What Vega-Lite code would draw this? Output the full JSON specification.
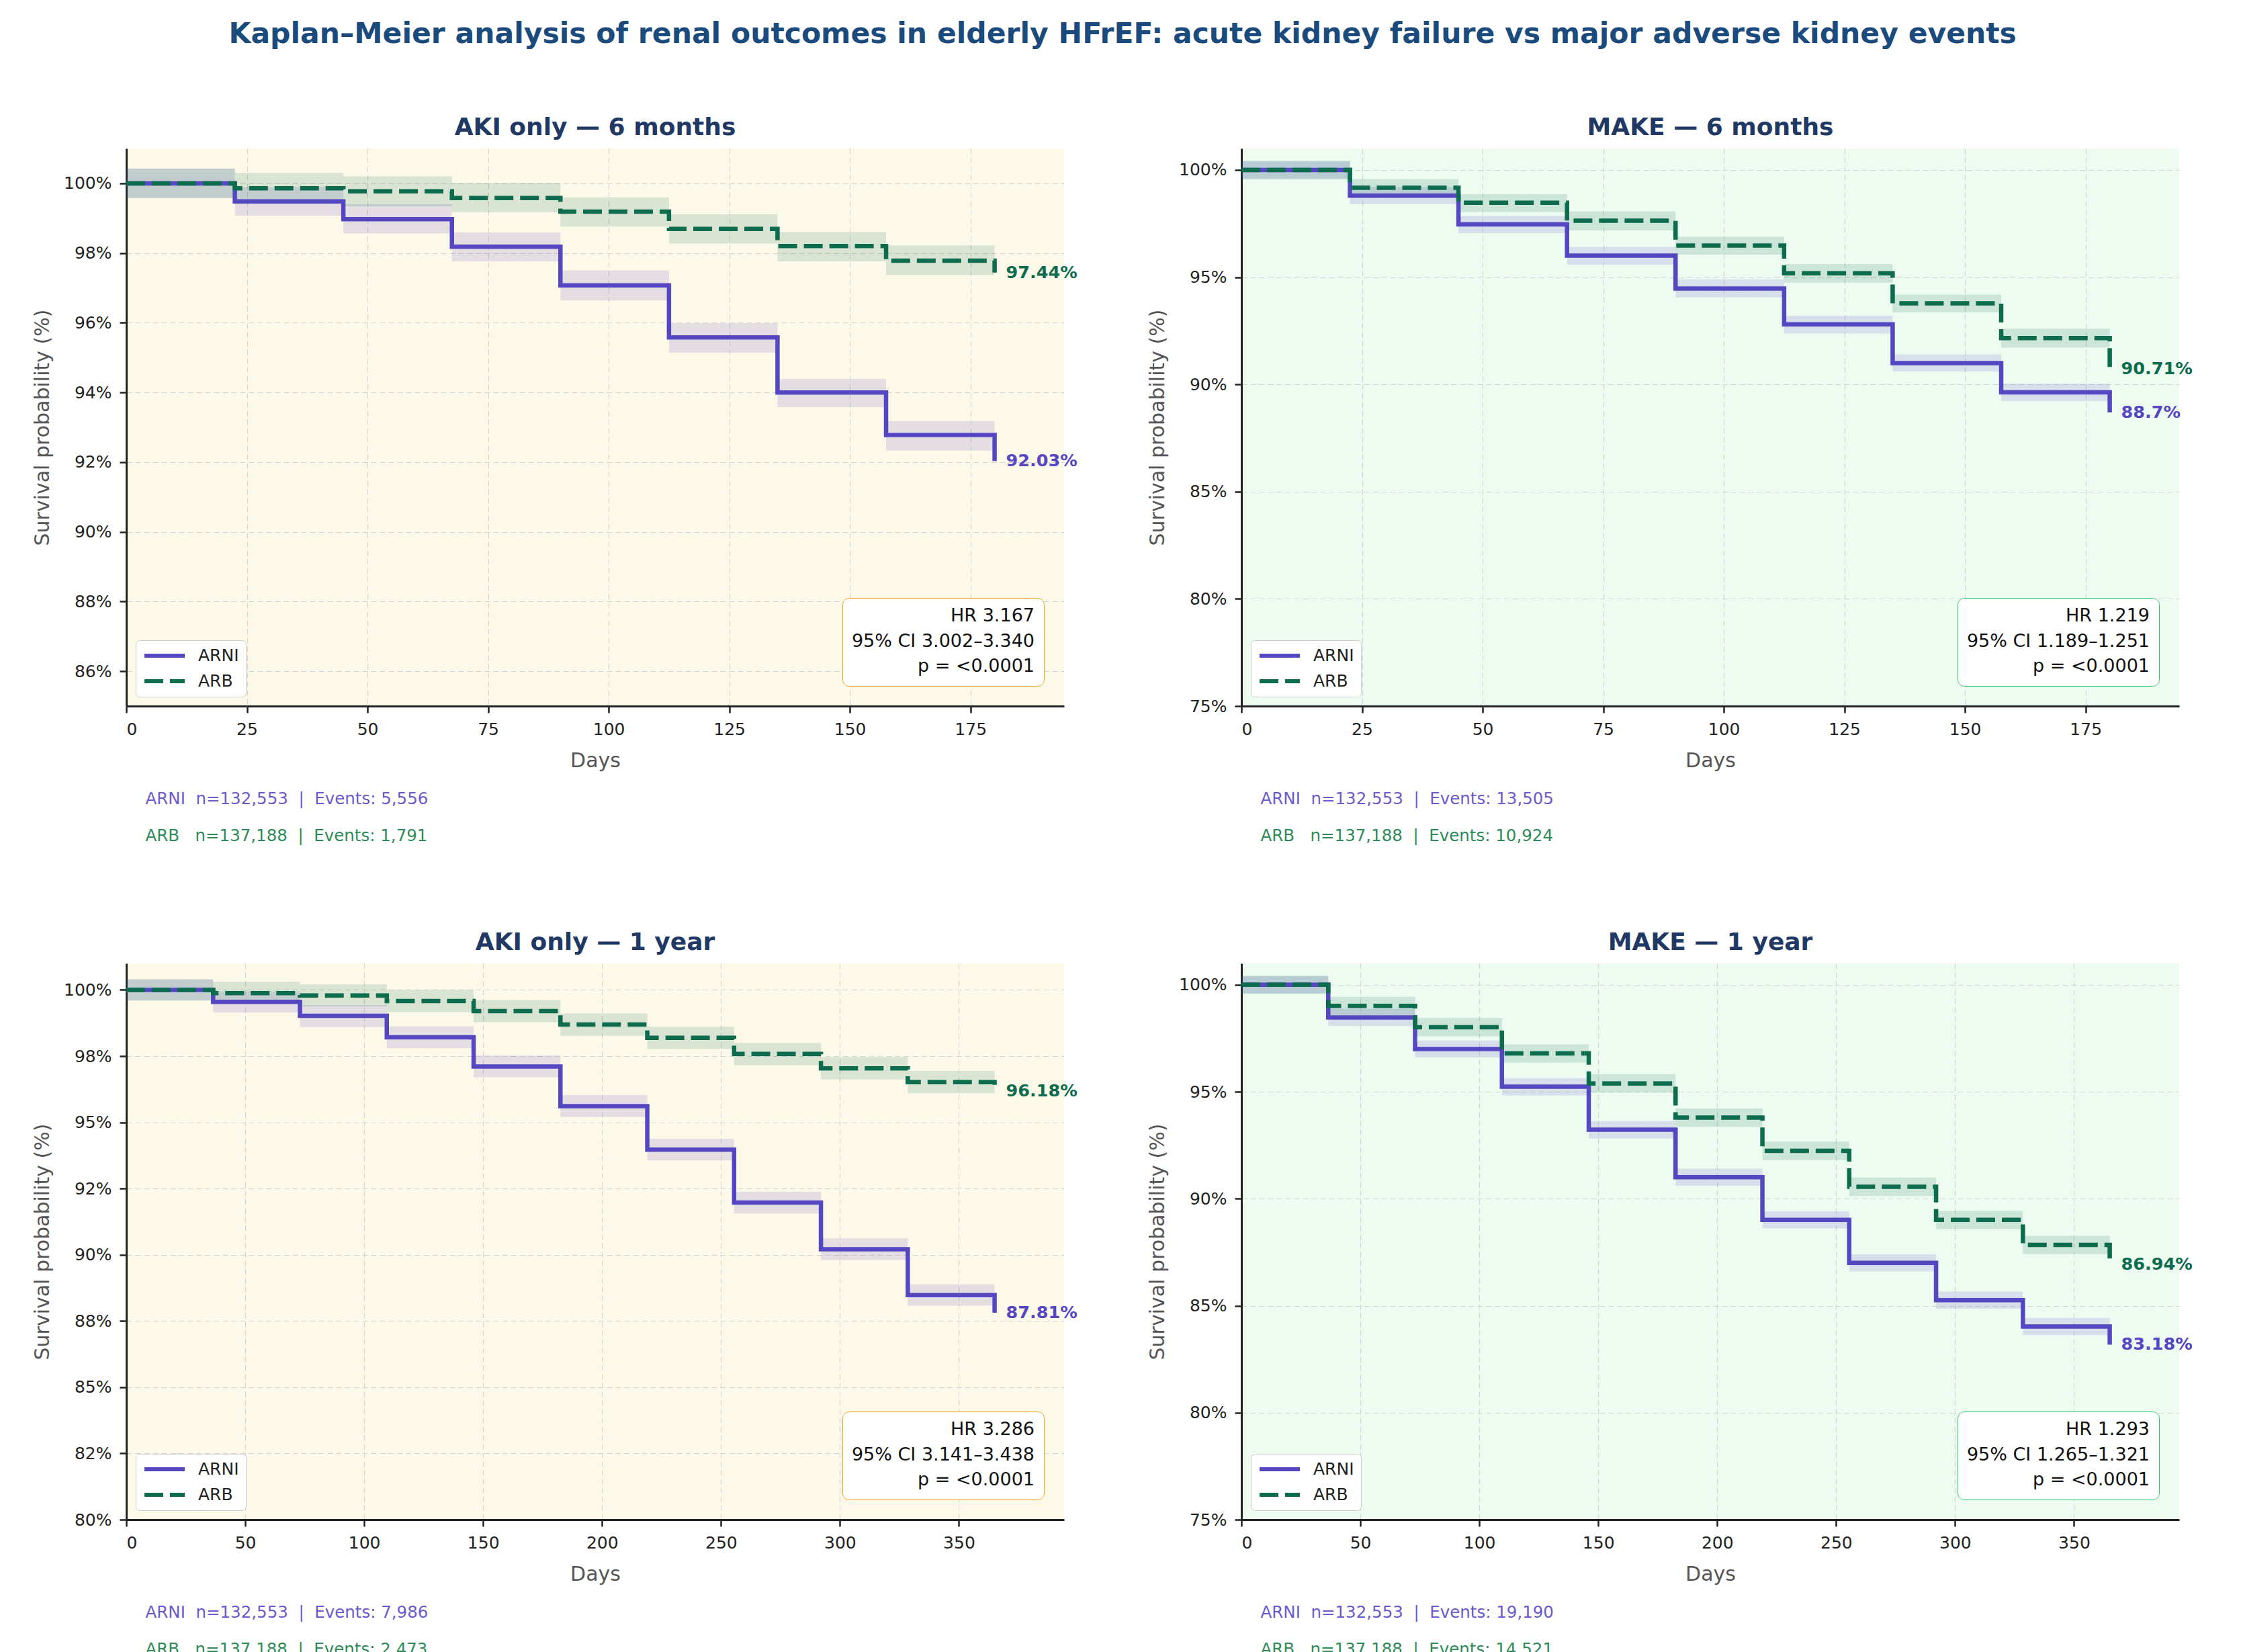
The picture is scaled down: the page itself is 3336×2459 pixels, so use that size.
{
  "$schema": "https://vega.github.io/schema/vega-lite/v6.json",
  "background": "white",
  "padding": {"left": 48, "top": 29, "right": 20, "bottom": 10},
  "title": {"text": "Kaplan–Meier analysis of renal outcomes in elderly HFrEF: acute kidney failure vs major adverse kidney events", "fontSize": 42.5, "fontWeight": "bold", "color": "#1a4b7c", "anchor": "middle", "offset": 100, "dx": 15},
  "datasets": {
    "a6": [
      {"g":"ARNI","t":0,"s":100,"lo":99.58,"hi":100.42},
      {"g":"ARNI","t":22.5,"s":99.48,"lo":99.07,"hi":99.89},
      {"g":"ARNI","t":45,"s":98.97,"lo":98.56,"hi":99.4},
      {"g":"ARNI","t":67.5,"s":98.18,"lo":97.76,"hi":98.59},
      {"g":"ARNI","t":90,"s":97.07,"lo":96.64,"hi":97.5},
      {"g":"ARNI","t":112.5,"s":95.58,"lo":95.14,"hi":95.99},
      {"g":"ARNI","t":135,"s":94.0,"lo":93.58,"hi":94.39},
      {"g":"ARNI","t":157.5,"s":92.78,"lo":92.33,"hi":93.18},
      {"g":"ARNI","t":180,"s":92.03,"lo":91.62,"hi":92.44},
      {"g":"ARB","t":0,"s":100,"lo":99.58,"hi":100.42},
      {"g":"ARB","t":22.5,"s":99.86,"lo":99.4,"hi":100.3},
      {"g":"ARB","t":45,"s":99.77,"lo":99.34,"hi":100.2},
      {"g":"ARB","t":67.5,"s":99.58,"lo":99.17,"hi":100.01},
      {"g":"ARB","t":90,"s":99.19,"lo":98.76,"hi":99.6},
      {"g":"ARB","t":112.5,"s":98.69,"lo":98.27,"hi":99.11},
      {"g":"ARB","t":135,"s":98.2,"lo":97.76,"hi":98.6},
      {"g":"ARB","t":157.5,"s":97.78,"lo":97.37,"hi":98.22},
      {"g":"ARB","t":180,"s":97.44,"lo":97.02,"hi":97.86}
    ],
    "m6": [
      {"g":"ARNI","t":0,"s":100,"lo":99.6,"hi":100.4},
      {"g":"ARNI","t":22.5,"s":98.8,"lo":98.4,"hi":99.2},
      {"g":"ARNI","t":45,"s":97.46,"lo":97.05,"hi":97.86},
      {"g":"ARNI","t":67.5,"s":96.0,"lo":95.58,"hi":96.4},
      {"g":"ARNI","t":90,"s":94.47,"lo":94.05,"hi":94.9},
      {"g":"ARNI","t":112.5,"s":92.8,"lo":92.37,"hi":93.2},
      {"g":"ARNI","t":135,"s":90.99,"lo":90.6,"hi":91.4},
      {"g":"ARNI","t":157.5,"s":89.63,"lo":89.23,"hi":90.04},
      {"g":"ARNI","t":180,"s":88.7,"lo":88.3,"hi":89.1},
      {"g":"ARB","t":0,"s":100,"lo":99.55,"hi":100.43},
      {"g":"ARB","t":22.5,"s":99.17,"lo":98.79,"hi":99.57},
      {"g":"ARB","t":45,"s":98.47,"lo":98.04,"hi":98.87},
      {"g":"ARB","t":67.5,"s":97.63,"lo":97.18,"hi":98.06},
      {"g":"ARB","t":90,"s":96.47,"lo":96.05,"hi":96.89},
      {"g":"ARB","t":112.5,"s":95.18,"lo":94.74,"hi":95.61},
      {"g":"ARB","t":135,"s":93.78,"lo":93.36,"hi":94.19},
      {"g":"ARB","t":157.5,"s":92.16,"lo":91.72,"hi":92.6},
      {"g":"ARB","t":180,"s":90.71,"lo":90.27,"hi":91.15}
    ],
    "a12": [
      {"g":"ARNI","t":0,"s":100,"lo":99.6,"hi":100.4},
      {"g":"ARNI","t":36.5,"s":99.55,"lo":99.14,"hi":99.95},
      {"g":"ARNI","t":73,"s":99.02,"lo":98.6,"hi":99.43},
      {"g":"ARNI","t":109.5,"s":98.21,"lo":97.8,"hi":98.62},
      {"g":"ARNI","t":146,"s":97.11,"lo":96.7,"hi":97.52},
      {"g":"ARNI","t":182.5,"s":95.61,"lo":95.2,"hi":96.03},
      {"g":"ARNI","t":219,"s":93.97,"lo":93.56,"hi":94.38},
      {"g":"ARNI","t":255.5,"s":91.97,"lo":91.56,"hi":92.38},
      {"g":"ARNI","t":292,"s":90.21,"lo":89.8,"hi":90.62},
      {"g":"ARNI","t":328.5,"s":88.48,"lo":88.08,"hi":88.88},
      {"g":"ARNI","t":365,"s":87.81,"lo":87.41,"hi":88.21},
      {"g":"ARB","t":0,"s":100,"lo":99.6,"hi":100.4},
      {"g":"ARB","t":36.5,"s":99.88,"lo":99.46,"hi":100.3},
      {"g":"ARB","t":73,"s":99.79,"lo":99.37,"hi":100.21},
      {"g":"ARB","t":109.5,"s":99.58,"lo":99.16,"hi":100.0},
      {"g":"ARB","t":146,"s":99.2,"lo":98.78,"hi":99.62},
      {"g":"ARB","t":182.5,"s":98.69,"lo":98.27,"hi":99.11},
      {"g":"ARB","t":219,"s":98.19,"lo":97.77,"hi":98.61},
      {"g":"ARB","t":255.5,"s":97.58,"lo":97.16,"hi":98.0},
      {"g":"ARB","t":292,"s":97.04,"lo":96.62,"hi":97.46},
      {"g":"ARB","t":328.5,"s":96.52,"lo":96.1,"hi":96.94},
      {"g":"ARB","t":365,"s":96.18,"lo":95.76,"hi":96.6}
    ],
    "m12": [
      {"g":"ARNI","t":0,"s":100,"lo":99.6,"hi":100.4},
      {"g":"ARNI","t":36.5,"s":98.47,"lo":98.07,"hi":98.87},
      {"g":"ARNI","t":73,"s":97.0,"lo":96.6,"hi":97.4},
      {"g":"ARNI","t":109.5,"s":95.24,"lo":94.83,"hi":95.64},
      {"g":"ARNI","t":146,"s":93.23,"lo":92.82,"hi":93.63},
      {"g":"ARNI","t":182.5,"s":91.01,"lo":90.61,"hi":91.41},
      {"g":"ARNI","t":219,"s":89.01,"lo":88.61,"hi":89.41},
      {"g":"ARNI","t":255.5,"s":87.0,"lo":86.6,"hi":87.4},
      {"g":"ARNI","t":292,"s":85.26,"lo":84.86,"hi":85.66},
      {"g":"ARNI","t":328.5,"s":84.03,"lo":83.63,"hi":84.43},
      {"g":"ARNI","t":365,"s":83.18,"lo":82.78,"hi":83.58},
      {"g":"ARB","t":0,"s":100,"lo":99.57,"hi":100.43},
      {"g":"ARB","t":36.5,"s":99.01,"lo":98.58,"hi":99.44},
      {"g":"ARB","t":73,"s":98.02,"lo":97.59,"hi":98.45},
      {"g":"ARB","t":109.5,"s":96.79,"lo":96.36,"hi":97.22},
      {"g":"ARB","t":146,"s":95.39,"lo":94.96,"hi":95.82},
      {"g":"ARB","t":182.5,"s":93.79,"lo":93.36,"hi":94.22},
      {"g":"ARB","t":219,"s":92.24,"lo":91.81,"hi":92.67},
      {"g":"ARB","t":255.5,"s":90.56,"lo":90.13,"hi":90.99},
      {"g":"ARB","t":292,"s":89.01,"lo":88.58,"hi":89.44},
      {"g":"ARB","t":328.5,"s":87.84,"lo":87.41,"hi":88.27},
      {"g":"ARB","t":365,"s":86.94,"lo":86.51,"hi":87.37}
    ]
  },
  "resolve": {"scale": {"stroke": "independent", "strokeDash": "independent", "shape": "independent"}, "legend": {"stroke": "independent", "strokeDash": "independent", "shape": "independent"}},
  "spacing": 129,
  "vconcat": [
    {
      "spacing": 104,
      "resolve": {"scale": {"stroke": "independent", "strokeDash": "independent", "shape": "independent"}, "legend": {"stroke": "independent", "strokeDash": "independent", "shape": "independent"}},
      "hconcat": [
        {
          "title": {"text": "ARNI\u00a0\u00a0n=132,553\u00a0\u00a0|\u00a0\u00a0Events: 5,556", "subtitle": "ARB\u00a0\u00a0\u00a0n=137,188\u00a0\u00a0|\u00a0\u00a0Events: 1,791", "orient": "bottom", "anchor": "start", "fontSize": 24.5, "fontWeight": "normal", "color": "#6a5acd", "subtitleFontSize": 24.5, "subtitleColor": "#2e8b57", "subtitlePadding": 30, "offset": 31, "dx": 168},
          "resolve": {"scale": {"stroke": "independent", "strokeDash": "independent", "shape": "independent"}, "legend": {"stroke": "independent", "strokeDash": "independent", "shape": "independent"}},
          "vconcat": [
            {
              "data": {"name": "a6"},
              "width": 1396, "height": 830,
              "view": {"fill": "#fdf9e9", "stroke": null},
              "title": {"text": "AKI only — 6 months"},
              "layer": [
                {"transform": [{"filter": "datum.g == 'ARNI'"}],
                 "mark": {"type": "area", "interpolate": "step-after", "fill": "#5546c2", "fillOpacity": 0.15},
                 "encoding": {
                   "x": {"field": "t", "type": "quantitative", "scale": {"domain": [0, 194.4], "nice": false, "zero": false}, "axis": {"values": [0,25,50,75,100,125,150,175], "title": "Days"}},
                   "y": {"field": "lo", "type": "quantitative", "scale": {"domain": [85, 101], "nice": false, "zero": false}, "axis": {"values": [86,88,90,92,94,96,98,100], "labelExpr": "datum.value + '%'", "title": "Survival probability (%)"}},
                   "y2": {"field": "hi"}}},
                {"transform": [{"filter": "datum.g == 'ARB'"}],
                 "mark": {"type": "area", "interpolate": "step-after", "fill": "#0d6b4e", "fillOpacity": 0.15},
                 "encoding": {
                   "x": {"field": "t", "type": "quantitative", "scale": {"domain": [0, 194.4], "nice": false, "zero": false}, "axis": {"values": [0,25,50,75,100,125,150,175], "title": "Days"}},
                   "y": {"field": "lo", "type": "quantitative", "scale": {"domain": [85, 101], "nice": false, "zero": false}, "axis": {"values": [86,88,90,92,94,96,98,100], "labelExpr": "datum.value + '%'", "title": "Survival probability (%)"}},
                   "y2": {"field": "hi"}}},
                {"transform": [{"filter": "datum.g == 'ARNI'"}],
                 "mark": {"type": "line", "interpolate": "step-after", "strokeWidth": 6.5},
                 "encoding": {
                   "x": {"field": "t", "type": "quantitative", "scale": {"domain": [0, 194.4], "nice": false, "zero": false}, "axis": {"values": [0,25,50,75,100,125,150,175], "title": "Days"}},
                   "y": {"field": "s", "type": "quantitative", "scale": {"domain": [85, 101], "nice": false, "zero": false}, "axis": {"values": [86,88,90,92,94,96,98,100], "labelExpr": "datum.value + '%'", "title": "Survival probability (%)"}},
                   "stroke": {"field": "g", "type": "nominal", "scale": {"domain": ["ARNI","ARB"], "range": ["#5546c2","#0d6b4e"]}, "legend": {"orient": "bottom-left", "offset": 14, "title": null}},
                   "strokeDash": {"field": "g", "type": "nominal", "scale": {"domain": ["ARNI","ARB"], "range": [[1,0],[28,10]]}, "legend": {"orient": "bottom-left", "offset": 14, "title": null}}}},
                {"transform": [{"filter": "datum.g == 'ARB'"}],
                 "mark": {"type": "line", "interpolate": "step-after", "strokeWidth": 6.5},
                 "encoding": {
                   "x": {"field": "t", "type": "quantitative", "scale": {"domain": [0, 194.4], "nice": false, "zero": false}, "axis": {"values": [0,25,50,75,100,125,150,175], "title": "Days"}},
                   "y": {"field": "s", "type": "quantitative", "scale": {"domain": [85, 101], "nice": false, "zero": false}, "axis": {"values": [86,88,90,92,94,96,98,100], "labelExpr": "datum.value + '%'", "title": "Survival probability (%)"}},
                   "stroke": {"field": "g", "type": "nominal", "scale": {"domain": ["ARNI","ARB"], "range": ["#5546c2","#0d6b4e"]}, "legend": {"orient": "bottom-left", "offset": 14, "title": null}},
                   "strokeDash": {"field": "g", "type": "nominal", "scale": {"domain": ["ARNI","ARB"], "range": [[1,0],[28,10]]}, "legend": {"orient": "bottom-left", "offset": 14, "title": null}}}},
                {"transform": [{"filter": "datum.t == 180 && datum.g == 'ARNI'"}, {"calculate": "datum.s + '%'", "as": "lbl"}],
                 "mark": {"type": "text", "align": "left", "baseline": "middle", "dx": 17, "fontSize": 25.5, "fontWeight": "bold", "fill": "#5546c2"},
                 "encoding": {
                   "x": {"field": "t", "type": "quantitative", "scale": {"domain": [0, 194.4], "nice": false, "zero": false}, "axis": {"values": [0,25,50,75,100,125,150,175], "title": "Days"}},
                   "y": {"field": "s", "type": "quantitative", "scale": {"domain": [85, 101], "nice": false, "zero": false}, "axis": {"values": [86,88,90,92,94,96,98,100], "labelExpr": "datum.value + '%'", "title": "Survival probability (%)"}},
                   "text": {"field": "lbl"}}},
                {"transform": [{"filter": "datum.t == 180 && datum.g == 'ARB'"}, {"calculate": "datum.s + '%'", "as": "lbl"}],
                 "mark": {"type": "text", "align": "left", "baseline": "middle", "dx": 17, "fontSize": 25.5, "fontWeight": "bold", "fill": "#0d6b4e"},
                 "encoding": {
                   "x": {"field": "t", "type": "quantitative", "scale": {"domain": [0, 194.4], "nice": false, "zero": false}, "axis": {"values": [0,25,50,75,100,125,150,175], "title": "Days"}},
                   "y": {"field": "s", "type": "quantitative", "scale": {"domain": [85, 101], "nice": false, "zero": false}, "axis": {"values": [86,88,90,92,94,96,98,100], "labelExpr": "datum.value + '%'", "title": "Survival probability (%)"}},
                   "text": {"field": "lbl"}}},
                {"transform": [{"filter": "datum.t == 0 && datum.g == 'ARNI'"}, {"calculate": "'HR'", "as": "k"}],
                 "mark": {"type": "point", "opacity": 0},
                 "encoding": {
                   "x": {"field": "t", "type": "quantitative", "scale": {"domain": [0, 194.4], "nice": false, "zero": false}, "axis": {"values": [0,25,50,75,100,125,150,175], "title": "Days"}},
                   "y": {"field": "s", "type": "quantitative", "scale": {"domain": [85, 101], "nice": false, "zero": false}, "axis": {"values": [86,88,90,92,94,96,98,100], "labelExpr": "datum.value + '%'", "title": "Survival probability (%)"}},
                   "shape": {"field": "k", "type": "nominal", "legend": {"orient": "bottom-right", "offset": 30, "title": ["HR 3.167", "95% CI 3.002–3.340", "p = <0.0001"], "strokeColor": "#f5a31a", "cornerRadius": 10, "padding": 14, "titlePadding": 0, "titleLineHeight": 37.5, "labelExpr": "''", "labelFontSize": 1, "labelOffset": 0, "symbolSize": 0, "symbolOpacity": 0, "symbolStrokeWidth": 0, "rowPadding": 0, "encode": {"legend": {"update": {"strokeWidth": {"value": 3}}}}}}}}
              ]
            }
          ]
        },
        {
          "title": {"text": "ARNI\u00a0\u00a0n=132,553\u00a0\u00a0|\u00a0\u00a0Events: 13,505", "subtitle": "ARB\u00a0\u00a0\u00a0n=137,188\u00a0\u00a0|\u00a0\u00a0Events: 10,924", "orient": "bottom", "anchor": "start", "fontSize": 24.5, "fontWeight": "normal", "color": "#6a5acd", "subtitleFontSize": 24.5, "subtitleColor": "#2e8b57", "subtitlePadding": 30, "offset": 31, "dx": 168},
          "resolve": {"scale": {"stroke": "independent", "strokeDash": "independent", "shape": "independent"}, "legend": {"stroke": "independent", "strokeDash": "independent", "shape": "independent"}},
          "vconcat": [
            {
              "data": {"name": "m6"},
              "width": 1396, "height": 830,
              "view": {"fill": "#edfbf1", "stroke": null},
              "title": {"text": "MAKE — 6 months"},
              "layer": [
                {"transform": [{"filter": "datum.g == 'ARNI'"}],
                 "mark": {"type": "area", "interpolate": "step-after", "fill": "#5546c2", "fillOpacity": 0.15},
                 "encoding": {
                   "x": {"field": "t", "type": "quantitative", "scale": {"domain": [0, 194.4], "nice": false, "zero": false}, "axis": {"values": [0,25,50,75,100,125,150,175], "title": "Days"}},
                   "y": {"field": "lo", "type": "quantitative", "scale": {"domain": [75, 101], "nice": false, "zero": false}, "axis": {"values": [75,80,85,90,95,100], "labelExpr": "datum.value + '%'", "title": "Survival probability (%)"}},
                   "y2": {"field": "hi"}}},
                {"transform": [{"filter": "datum.g == 'ARB'"}],
                 "mark": {"type": "area", "interpolate": "step-after", "fill": "#0d6b4e", "fillOpacity": 0.15},
                 "encoding": {
                   "x": {"field": "t", "type": "quantitative", "scale": {"domain": [0, 194.4], "nice": false, "zero": false}, "axis": {"values": [0,25,50,75,100,125,150,175], "title": "Days"}},
                   "y": {"field": "lo", "type": "quantitative", "scale": {"domain": [75, 101], "nice": false, "zero": false}, "axis": {"values": [75,80,85,90,95,100], "labelExpr": "datum.value + '%'", "title": "Survival probability (%)"}},
                   "y2": {"field": "hi"}}},
                {"transform": [{"filter": "datum.g == 'ARNI'"}],
                 "mark": {"type": "line", "interpolate": "step-after", "strokeWidth": 6.5},
                 "encoding": {
                   "x": {"field": "t", "type": "quantitative", "scale": {"domain": [0, 194.4], "nice": false, "zero": false}, "axis": {"values": [0,25,50,75,100,125,150,175], "title": "Days"}},
                   "y": {"field": "s", "type": "quantitative", "scale": {"domain": [75, 101], "nice": false, "zero": false}, "axis": {"values": [75,80,85,90,95,100], "labelExpr": "datum.value + '%'", "title": "Survival probability (%)"}},
                   "stroke": {"field": "g", "type": "nominal", "scale": {"domain": ["ARNI","ARB"], "range": ["#5546c2","#0d6b4e"]}, "legend": {"orient": "bottom-left", "offset": 14, "title": null}},
                   "strokeDash": {"field": "g", "type": "nominal", "scale": {"domain": ["ARNI","ARB"], "range": [[1,0],[28,10]]}, "legend": {"orient": "bottom-left", "offset": 14, "title": null}}}},
                {"transform": [{"filter": "datum.g == 'ARB'"}],
                 "mark": {"type": "line", "interpolate": "step-after", "strokeWidth": 6.5},
                 "encoding": {
                   "x": {"field": "t", "type": "quantitative", "scale": {"domain": [0, 194.4], "nice": false, "zero": false}, "axis": {"values": [0,25,50,75,100,125,150,175], "title": "Days"}},
                   "y": {"field": "s", "type": "quantitative", "scale": {"domain": [75, 101], "nice": false, "zero": false}, "axis": {"values": [75,80,85,90,95,100], "labelExpr": "datum.value + '%'", "title": "Survival probability (%)"}},
                   "stroke": {"field": "g", "type": "nominal", "scale": {"domain": ["ARNI","ARB"], "range": ["#5546c2","#0d6b4e"]}, "legend": {"orient": "bottom-left", "offset": 14, "title": null}},
                   "strokeDash": {"field": "g", "type": "nominal", "scale": {"domain": ["ARNI","ARB"], "range": [[1,0],[28,10]]}, "legend": {"orient": "bottom-left", "offset": 14, "title": null}}}},
                {"transform": [{"filter": "datum.t == 180 && datum.g == 'ARNI'"}, {"calculate": "datum.s + '%'", "as": "lbl"}],
                 "mark": {"type": "text", "align": "left", "baseline": "middle", "dx": 17, "fontSize": 25.5, "fontWeight": "bold", "fill": "#5546c2"},
                 "encoding": {
                   "x": {"field": "t", "type": "quantitative", "scale": {"domain": [0, 194.4], "nice": false, "zero": false}, "axis": {"values": [0,25,50,75,100,125,150,175], "title": "Days"}},
                   "y": {"field": "s", "type": "quantitative", "scale": {"domain": [75, 101], "nice": false, "zero": false}, "axis": {"values": [75,80,85,90,95,100], "labelExpr": "datum.value + '%'", "title": "Survival probability (%)"}},
                   "text": {"field": "lbl"}}},
                {"transform": [{"filter": "datum.t == 180 && datum.g == 'ARB'"}, {"calculate": "datum.s + '%'", "as": "lbl"}],
                 "mark": {"type": "text", "align": "left", "baseline": "middle", "dx": 17, "fontSize": 25.5, "fontWeight": "bold", "fill": "#0d6b4e"},
                 "encoding": {
                   "x": {"field": "t", "type": "quantitative", "scale": {"domain": [0, 194.4], "nice": false, "zero": false}, "axis": {"values": [0,25,50,75,100,125,150,175], "title": "Days"}},
                   "y": {"field": "s", "type": "quantitative", "scale": {"domain": [75, 101], "nice": false, "zero": false}, "axis": {"values": [75,80,85,90,95,100], "labelExpr": "datum.value + '%'", "title": "Survival probability (%)"}},
                   "text": {"field": "lbl"}}},
                {"transform": [{"filter": "datum.t == 0 && datum.g == 'ARNI'"}, {"calculate": "'HR'", "as": "k"}],
                 "mark": {"type": "point", "opacity": 0},
                 "encoding": {
                   "x": {"field": "t", "type": "quantitative", "scale": {"domain": [0, 194.4], "nice": false, "zero": false}, "axis": {"values": [0,25,50,75,100,125,150,175], "title": "Days"}},
                   "y": {"field": "s", "type": "quantitative", "scale": {"domain": [75, 101], "nice": false, "zero": false}, "axis": {"values": [75,80,85,90,95,100], "labelExpr": "datum.value + '%'", "title": "Survival probability (%)"}},
                   "shape": {"field": "k", "type": "nominal", "legend": {"orient": "bottom-right", "offset": 30, "title": ["HR 1.219", "95% CI 1.189–1.251", "p = <0.0001"], "strokeColor": "#2ecc71", "cornerRadius": 10, "padding": 14, "titlePadding": 0, "titleLineHeight": 37.5, "labelExpr": "''", "labelFontSize": 1, "labelOffset": 0, "symbolSize": 0, "symbolOpacity": 0, "symbolStrokeWidth": 0, "rowPadding": 0, "encode": {"legend": {"update": {"strokeWidth": {"value": 3}}}}}}}}
              ]
            }
          ]
        }
      ]
    },
    {
      "spacing": 104,
      "resolve": {"scale": {"stroke": "independent", "strokeDash": "independent", "shape": "independent"}, "legend": {"stroke": "independent", "strokeDash": "independent", "shape": "independent"}},
      "hconcat": [
        {
          "title": {"text": "ARNI\u00a0\u00a0n=132,553\u00a0\u00a0|\u00a0\u00a0Events: 7,986", "subtitle": "ARB\u00a0\u00a0\u00a0n=137,188\u00a0\u00a0|\u00a0\u00a0Events: 2,473", "orient": "bottom", "anchor": "start", "fontSize": 24.5, "fontWeight": "normal", "color": "#6a5acd", "subtitleFontSize": 24.5, "subtitleColor": "#2e8b57", "subtitlePadding": 30, "offset": 31, "dx": 168},
          "resolve": {"scale": {"stroke": "independent", "strokeDash": "independent", "shape": "independent"}, "legend": {"stroke": "independent", "strokeDash": "independent", "shape": "independent"}},
          "vconcat": [
            {
              "data": {"name": "a12"},
              "width": 1396, "height": 828,
              "view": {"fill": "#fdf9e9", "stroke": null},
              "title": {"text": "AKI only — 1 year"},
              "layer": [
                {"transform": [{"filter": "datum.g == 'ARNI'"}],
                 "mark": {"type": "area", "interpolate": "step-after", "fill": "#5546c2", "fillOpacity": 0.15},
                 "encoding": {
                   "x": {"field": "t", "type": "quantitative", "scale": {"domain": [0, 394.2], "nice": false, "zero": false}, "axis": {"values": [0,50,100,150,200,250,300,350], "title": "Days"}},
                   "y": {"field": "lo", "type": "quantitative", "scale": {"domain": [80, 101], "nice": false, "zero": false}, "axis": {"values": [80,82.5,85,87.5,90,92.5,95,97.5,100], "labelExpr": "datum.value == 82.5 ? '82%' : datum.value == 87.5 ? '88%' : datum.value == 92.5 ? '92%' : datum.value == 97.5 ? '98%' : datum.value + '%'", "title": "Survival probability (%)"}},
                   "y2": {"field": "hi"}}},
                {"transform": [{"filter": "datum.g == 'ARB'"}],
                 "mark": {"type": "area", "interpolate": "step-after", "fill": "#0d6b4e", "fillOpacity": 0.15},
                 "encoding": {
                   "x": {"field": "t", "type": "quantitative", "scale": {"domain": [0, 394.2], "nice": false, "zero": false}, "axis": {"values": [0,50,100,150,200,250,300,350], "title": "Days"}},
                   "y": {"field": "lo", "type": "quantitative", "scale": {"domain": [80, 101], "nice": false, "zero": false}, "axis": {"values": [80,82.5,85,87.5,90,92.5,95,97.5,100], "labelExpr": "datum.value == 82.5 ? '82%' : datum.value == 87.5 ? '88%' : datum.value == 92.5 ? '92%' : datum.value == 97.5 ? '98%' : datum.value + '%'", "title": "Survival probability (%)"}},
                   "y2": {"field": "hi"}}},
                {"transform": [{"filter": "datum.g == 'ARNI'"}],
                 "mark": {"type": "line", "interpolate": "step-after", "strokeWidth": 6.5},
                 "encoding": {
                   "x": {"field": "t", "type": "quantitative", "scale": {"domain": [0, 394.2], "nice": false, "zero": false}, "axis": {"values": [0,50,100,150,200,250,300,350], "title": "Days"}},
                   "y": {"field": "s", "type": "quantitative", "scale": {"domain": [80, 101], "nice": false, "zero": false}, "axis": {"values": [80,82.5,85,87.5,90,92.5,95,97.5,100], "labelExpr": "datum.value == 82.5 ? '82%' : datum.value == 87.5 ? '88%' : datum.value == 92.5 ? '92%' : datum.value == 97.5 ? '98%' : datum.value + '%'", "title": "Survival probability (%)"}},
                   "stroke": {"field": "g", "type": "nominal", "scale": {"domain": ["ARNI","ARB"], "range": ["#5546c2","#0d6b4e"]}, "legend": {"orient": "bottom-left", "offset": 14, "title": null}},
                   "strokeDash": {"field": "g", "type": "nominal", "scale": {"domain": ["ARNI","ARB"], "range": [[1,0],[28,10]]}, "legend": {"orient": "bottom-left", "offset": 14, "title": null}}}},
                {"transform": [{"filter": "datum.g == 'ARB'"}],
                 "mark": {"type": "line", "interpolate": "step-after", "strokeWidth": 6.5},
                 "encoding": {
                   "x": {"field": "t", "type": "quantitative", "scale": {"domain": [0, 394.2], "nice": false, "zero": false}, "axis": {"values": [0,50,100,150,200,250,300,350], "title": "Days"}},
                   "y": {"field": "s", "type": "quantitative", "scale": {"domain": [80, 101], "nice": false, "zero": false}, "axis": {"values": [80,82.5,85,87.5,90,92.5,95,97.5,100], "labelExpr": "datum.value == 82.5 ? '82%' : datum.value == 87.5 ? '88%' : datum.value == 92.5 ? '92%' : datum.value == 97.5 ? '98%' : datum.value + '%'", "title": "Survival probability (%)"}},
                   "stroke": {"field": "g", "type": "nominal", "scale": {"domain": ["ARNI","ARB"], "range": ["#5546c2","#0d6b4e"]}, "legend": {"orient": "bottom-left", "offset": 14, "title": null}},
                   "strokeDash": {"field": "g", "type": "nominal", "scale": {"domain": ["ARNI","ARB"], "range": [[1,0],[28,10]]}, "legend": {"orient": "bottom-left", "offset": 14, "title": null}}}},
                {"transform": [{"filter": "datum.t == 365 && datum.g == 'ARNI'"}, {"calculate": "datum.s + '%'", "as": "lbl"}],
                 "mark": {"type": "text", "align": "left", "baseline": "middle", "dx": 17, "fontSize": 25.5, "fontWeight": "bold", "fill": "#5546c2"},
                 "encoding": {
                   "x": {"field": "t", "type": "quantitative", "scale": {"domain": [0, 394.2], "nice": false, "zero": false}, "axis": {"values": [0,50,100,150,200,250,300,350], "title": "Days"}},
                   "y": {"field": "s", "type": "quantitative", "scale": {"domain": [80, 101], "nice": false, "zero": false}, "axis": {"values": [80,82.5,85,87.5,90,92.5,95,97.5,100], "labelExpr": "datum.value == 82.5 ? '82%' : datum.value == 87.5 ? '88%' : datum.value == 92.5 ? '92%' : datum.value == 97.5 ? '98%' : datum.value + '%'", "title": "Survival probability (%)"}},
                   "text": {"field": "lbl"}}},
                {"transform": [{"filter": "datum.t == 365 && datum.g == 'ARB'"}, {"calculate": "datum.s + '%'", "as": "lbl"}],
                 "mark": {"type": "text", "align": "left", "baseline": "middle", "dx": 17, "fontSize": 25.5, "fontWeight": "bold", "fill": "#0d6b4e"},
                 "encoding": {
                   "x": {"field": "t", "type": "quantitative", "scale": {"domain": [0, 394.2], "nice": false, "zero": false}, "axis": {"values": [0,50,100,150,200,250,300,350], "title": "Days"}},
                   "y": {"field": "s", "type": "quantitative", "scale": {"domain": [80, 101], "nice": false, "zero": false}, "axis": {"values": [80,82.5,85,87.5,90,92.5,95,97.5,100], "labelExpr": "datum.value == 82.5 ? '82%' : datum.value == 87.5 ? '88%' : datum.value == 92.5 ? '92%' : datum.value == 97.5 ? '98%' : datum.value + '%'", "title": "Survival probability (%)"}},
                   "text": {"field": "lbl"}}},
                {"transform": [{"filter": "datum.t == 0 && datum.g == 'ARNI'"}, {"calculate": "'HR'", "as": "k"}],
                 "mark": {"type": "point", "opacity": 0},
                 "encoding": {
                   "x": {"field": "t", "type": "quantitative", "scale": {"domain": [0, 394.2], "nice": false, "zero": false}, "axis": {"values": [0,50,100,150,200,250,300,350], "title": "Days"}},
                   "y": {"field": "s", "type": "quantitative", "scale": {"domain": [80, 101], "nice": false, "zero": false}, "axis": {"values": [80,82.5,85,87.5,90,92.5,95,97.5,100], "labelExpr": "datum.value == 82.5 ? '82%' : datum.value == 87.5 ? '88%' : datum.value == 92.5 ? '92%' : datum.value == 97.5 ? '98%' : datum.value + '%'", "title": "Survival probability (%)"}},
                   "shape": {"field": "k", "type": "nominal", "legend": {"orient": "bottom-right", "offset": 30, "title": ["HR 3.286", "95% CI 3.141–3.438", "p = <0.0001"], "strokeColor": "#f5a31a", "cornerRadius": 10, "padding": 14, "titlePadding": 0, "titleLineHeight": 37.5, "labelExpr": "''", "labelFontSize": 1, "labelOffset": 0, "symbolSize": 0, "symbolOpacity": 0, "symbolStrokeWidth": 0, "rowPadding": 0, "encode": {"legend": {"update": {"strokeWidth": {"value": 3}}}}}}}}
              ]
            }
          ]
        },
        {
          "title": {"text": "ARNI\u00a0\u00a0n=132,553\u00a0\u00a0|\u00a0\u00a0Events: 19,190", "subtitle": "ARB\u00a0\u00a0\u00a0n=137,188\u00a0\u00a0|\u00a0\u00a0Events: 14,521", "orient": "bottom", "anchor": "start", "fontSize": 24.5, "fontWeight": "normal", "color": "#6a5acd", "subtitleFontSize": 24.5, "subtitleColor": "#2e8b57", "subtitlePadding": 30, "offset": 31, "dx": 168},
          "resolve": {"scale": {"stroke": "independent", "strokeDash": "independent", "shape": "independent"}, "legend": {"stroke": "independent", "strokeDash": "independent", "shape": "independent"}},
          "vconcat": [
            {
              "data": {"name": "m12"},
              "width": 1396, "height": 828,
              "view": {"fill": "#edfbf1", "stroke": null},
              "title": {"text": "MAKE — 1 year"},
              "layer": [
                {"transform": [{"filter": "datum.g == 'ARNI'"}],
                 "mark": {"type": "area", "interpolate": "step-after", "fill": "#5546c2", "fillOpacity": 0.15},
                 "encoding": {
                   "x": {"field": "t", "type": "quantitative", "scale": {"domain": [0, 394.2], "nice": false, "zero": false}, "axis": {"values": [0,50,100,150,200,250,300,350], "title": "Days"}},
                   "y": {"field": "lo", "type": "quantitative", "scale": {"domain": [75, 101], "nice": false, "zero": false}, "axis": {"values": [75,80,85,90,95,100], "labelExpr": "datum.value + '%'", "title": "Survival probability (%)"}},
                   "y2": {"field": "hi"}}},
                {"transform": [{"filter": "datum.g == 'ARB'"}],
                 "mark": {"type": "area", "interpolate": "step-after", "fill": "#0d6b4e", "fillOpacity": 0.15},
                 "encoding": {
                   "x": {"field": "t", "type": "quantitative", "scale": {"domain": [0, 394.2], "nice": false, "zero": false}, "axis": {"values": [0,50,100,150,200,250,300,350], "title": "Days"}},
                   "y": {"field": "lo", "type": "quantitative", "scale": {"domain": [75, 101], "nice": false, "zero": false}, "axis": {"values": [75,80,85,90,95,100], "labelExpr": "datum.value + '%'", "title": "Survival probability (%)"}},
                   "y2": {"field": "hi"}}},
                {"transform": [{"filter": "datum.g == 'ARNI'"}],
                 "mark": {"type": "line", "interpolate": "step-after", "strokeWidth": 6.5},
                 "encoding": {
                   "x": {"field": "t", "type": "quantitative", "scale": {"domain": [0, 394.2], "nice": false, "zero": false}, "axis": {"values": [0,50,100,150,200,250,300,350], "title": "Days"}},
                   "y": {"field": "s", "type": "quantitative", "scale": {"domain": [75, 101], "nice": false, "zero": false}, "axis": {"values": [75,80,85,90,95,100], "labelExpr": "datum.value + '%'", "title": "Survival probability (%)"}},
                   "stroke": {"field": "g", "type": "nominal", "scale": {"domain": ["ARNI","ARB"], "range": ["#5546c2","#0d6b4e"]}, "legend": {"orient": "bottom-left", "offset": 14, "title": null}},
                   "strokeDash": {"field": "g", "type": "nominal", "scale": {"domain": ["ARNI","ARB"], "range": [[1,0],[28,10]]}, "legend": {"orient": "bottom-left", "offset": 14, "title": null}}}},
                {"transform": [{"filter": "datum.g == 'ARB'"}],
                 "mark": {"type": "line", "interpolate": "step-after", "strokeWidth": 6.5},
                 "encoding": {
                   "x": {"field": "t", "type": "quantitative", "scale": {"domain": [0, 394.2], "nice": false, "zero": false}, "axis": {"values": [0,50,100,150,200,250,300,350], "title": "Days"}},
                   "y": {"field": "s", "type": "quantitative", "scale": {"domain": [75, 101], "nice": false, "zero": false}, "axis": {"values": [75,80,85,90,95,100], "labelExpr": "datum.value + '%'", "title": "Survival probability (%)"}},
                   "stroke": {"field": "g", "type": "nominal", "scale": {"domain": ["ARNI","ARB"], "range": ["#5546c2","#0d6b4e"]}, "legend": {"orient": "bottom-left", "offset": 14, "title": null}},
                   "strokeDash": {"field": "g", "type": "nominal", "scale": {"domain": ["ARNI","ARB"], "range": [[1,0],[28,10]]}, "legend": {"orient": "bottom-left", "offset": 14, "title": null}}}},
                {"transform": [{"filter": "datum.t == 365 && datum.g == 'ARNI'"}, {"calculate": "datum.s + '%'", "as": "lbl"}],
                 "mark": {"type": "text", "align": "left", "baseline": "middle", "dx": 17, "fontSize": 25.5, "fontWeight": "bold", "fill": "#5546c2"},
                 "encoding": {
                   "x": {"field": "t", "type": "quantitative", "scale": {"domain": [0, 394.2], "nice": false, "zero": false}, "axis": {"values": [0,50,100,150,200,250,300,350], "title": "Days"}},
                   "y": {"field": "s", "type": "quantitative", "scale": {"domain": [75, 101], "nice": false, "zero": false}, "axis": {"values": [75,80,85,90,95,100], "labelExpr": "datum.value + '%'", "title": "Survival probability (%)"}},
                   "text": {"field": "lbl"}}},
                {"transform": [{"filter": "datum.t == 365 && datum.g == 'ARB'"}, {"calculate": "datum.s + '%'", "as": "lbl"}],
                 "mark": {"type": "text", "align": "left", "baseline": "middle", "dx": 17, "fontSize": 25.5, "fontWeight": "bold", "fill": "#0d6b4e"},
                 "encoding": {
                   "x": {"field": "t", "type": "quantitative", "scale": {"domain": [0, 394.2], "nice": false, "zero": false}, "axis": {"values": [0,50,100,150,200,250,300,350], "title": "Days"}},
                   "y": {"field": "s", "type": "quantitative", "scale": {"domain": [75, 101], "nice": false, "zero": false}, "axis": {"values": [75,80,85,90,95,100], "labelExpr": "datum.value + '%'", "title": "Survival probability (%)"}},
                   "text": {"field": "lbl"}}},
                {"transform": [{"filter": "datum.t == 0 && datum.g == 'ARNI'"}, {"calculate": "'HR'", "as": "k"}],
                 "mark": {"type": "point", "opacity": 0},
                 "encoding": {
                   "x": {"field": "t", "type": "quantitative", "scale": {"domain": [0, 394.2], "nice": false, "zero": false}, "axis": {"values": [0,50,100,150,200,250,300,350], "title": "Days"}},
                   "y": {"field": "s", "type": "quantitative", "scale": {"domain": [75, 101], "nice": false, "zero": false}, "axis": {"values": [75,80,85,90,95,100], "labelExpr": "datum.value + '%'", "title": "Survival probability (%)"}},
                   "shape": {"field": "k", "type": "nominal", "legend": {"orient": "bottom-right", "offset": 30, "title": ["HR 1.293", "95% CI 1.265–1.321", "p = <0.0001"], "strokeColor": "#2ecc71", "cornerRadius": 10, "padding": 14, "titlePadding": 0, "titleLineHeight": 37.5, "labelExpr": "''", "labelFontSize": 1, "labelOffset": 0, "symbolSize": 0, "symbolOpacity": 0, "symbolStrokeWidth": 0, "rowPadding": 0, "encode": {"legend": {"update": {"strokeWidth": {"value": 3}}}}}}}}
              ]
            }
          ]
        }
      ]
    }
  ],
  "config": {
    "font": "DejaVu Sans",
    "view": {"stroke": null},
    "axis": {"labelFont": "DejaVu Sans", "labelFontSize": 25, "labelColor": "#222222", "titleFont": "DejaVu Sans", "titleFontSize": 30, "titleFontWeight": "normal", "titleColor": "#555555", "domainColor": "#222222", "domainWidth": 3, "tickColor": "#222222", "tickWidth": 2.5, "tickSize": 10, "grid": true, "gridColor": "#d4d4d4", "gridDash": [8, 5], "gridWidth": 1.2},
    "axisY": {"labelPadding": 12, "titlePadding": 16},
    "axisX": {"labelPadding": 12, "titlePadding": 19},
    "title": {"font": "DejaVu Sans", "fontSize": 36, "fontWeight": "bold", "color": "#1f3864", "offset": 12},
    "legend": {"labelFont": "DejaVu Sans", "labelFontSize": 25, "labelColor": "#222222", "symbolType": "M-1,0H5", "symbolStrokeWidth": 6, "symbolSize": 400, "labelOffset": 57, "padding": 10, "rowPadding": 12, "strokeColor": "#cccccc", "fillColor": "white", "cornerRadius": 6, "titleFont": "DejaVu Sans", "titleFontSize": 27, "titleFontWeight": "normal", "titleColor": "#111111", "titleAlign": "right", "titleAnchor": "end", "titleLimit": 1000, "titleLineHeight": 37}
  }
}
